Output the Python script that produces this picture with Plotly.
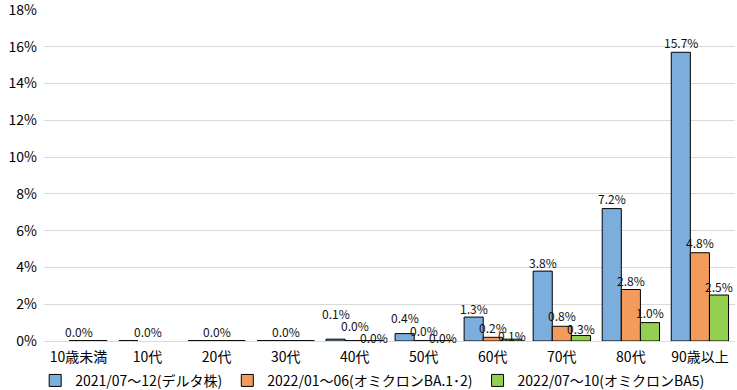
import plotly.graph_objects as go

categories = ["10歳未満", "10代", "20代", "30代", "40代", "50代", "60代", "70代", "80代", "90歳以上"]
series_names = ["2021/07～12(デルタ株)", "2022/01～06(オミクロンBA.1･2)", "2022/07～10(オミクロンBA5)"]
delta = [None, 0.0, 0.0, 0.0, 0.1, 0.4, 1.3, 3.8, 7.2, 15.7]
ba12 = [0.0, None, 0.0, 0.0, 0.0, 0.0, 0.2, 0.8, 2.8, 4.8]
ba5 = [0.0, None, 0.0, 0.0, 0.0, 0.0, 0.1, 0.3, 1.0, 2.5]
y_ticks = [0, 2, 4, 6, 8, 10, 12, 14, 16, 18]

colors = ["#7BAEDD", "#F39B5C", "#93D050"]
series = [delta, ba12, ba5]

# label placement per series/category (px above bar top) — style only
label_shift = [
    [None, None, None, None, 26, 16, 9, 9, 10, 10],
    [10, 10, 10, 10, 16, 11, 10, 11, 9.5, 10.5],
    [None, None, None, None, 4, 4, 4, 6.5, 10, 9],
]
bar_px = 19.1

fig = go.Figure()
for name, vals, col in zip(series_names, series, colors):
    fig.add_trace(go.Bar(
        x=categories, y=vals, name=name,
        marker=dict(color=col, line=dict(color="black", width=1)),
    ))

# zero-value bars are drawn as black line segments at the baseline
n = len(series)
w = (1 - 0.17) / n
for si, vals in enumerate(series):
    for ci, v in enumerate(vals):
        if v is not None and v == 0:
            c = ci + (si - (n - 1) / 2) * w
            fig.add_shape(type="line", xref="x", yref="y",
                          x0=c - w / 2, x1=c + w / 2, y0=0, y1=0,
                          line=dict(color="black", width=1.5), layer="above")

for ci in range(len(categories)):
    vals_here = [s[ci] for s in series]
    for si, v in enumerate(vals_here):
        s = label_shift[si][ci]
        if s is None:
            continue
        if v is None:
            v = max(x for x in vals_here if x is not None)
        fig.add_annotation(
            x=categories[ci], y=v, xref="x", yref="y",
            text=f"{v:.1f}%", showarrow=False,
            xshift=(si - 1) * bar_px, yshift=s, yanchor="middle",
            font=dict(size=12, color="#111"),
        )

fig.update_layout(
    width=737, height=390,
    margin=dict(l=44, r=2, t=10, b=49, autoexpand=False),
    paper_bgcolor="white", plot_bgcolor="white",
    barmode="group", bargap=0.17, bargroupgap=0,
    font=dict(family="Noto Sans CJK JP, Noto Sans, sans-serif", size=14, color="#000"),
    showlegend=True,
    legend=dict(orientation="h", xref="container", x=0.505, xanchor="center",
                y=-0.072, yanchor="top",
                font=dict(size=14), itemwidth=30, tracegroupgap=0),
    xaxis=dict(type="category", showgrid=False, showline=False, ticks="",
               tickfont=dict(size=14), automargin=False, ticklabelstandoff=6),
    yaxis=dict(range=[0, 18], tickvals=y_ticks, ticktext=[f"{t}%" for t in y_ticks],
               showgrid=True, gridcolor="#D9D9D9", gridwidth=1, zeroline=True,
               zerolinecolor="#D9D9D9", zerolinewidth=1, showline=False, ticks="",
               tickfont=dict(size=14), automargin=False, ticklabelstandoff=6,
               ticklabeloverflow="allow"),
)

fig.write_html("out.html", config={"displayModeBar": False},
               post_script="document.body.style.margin='0';")
